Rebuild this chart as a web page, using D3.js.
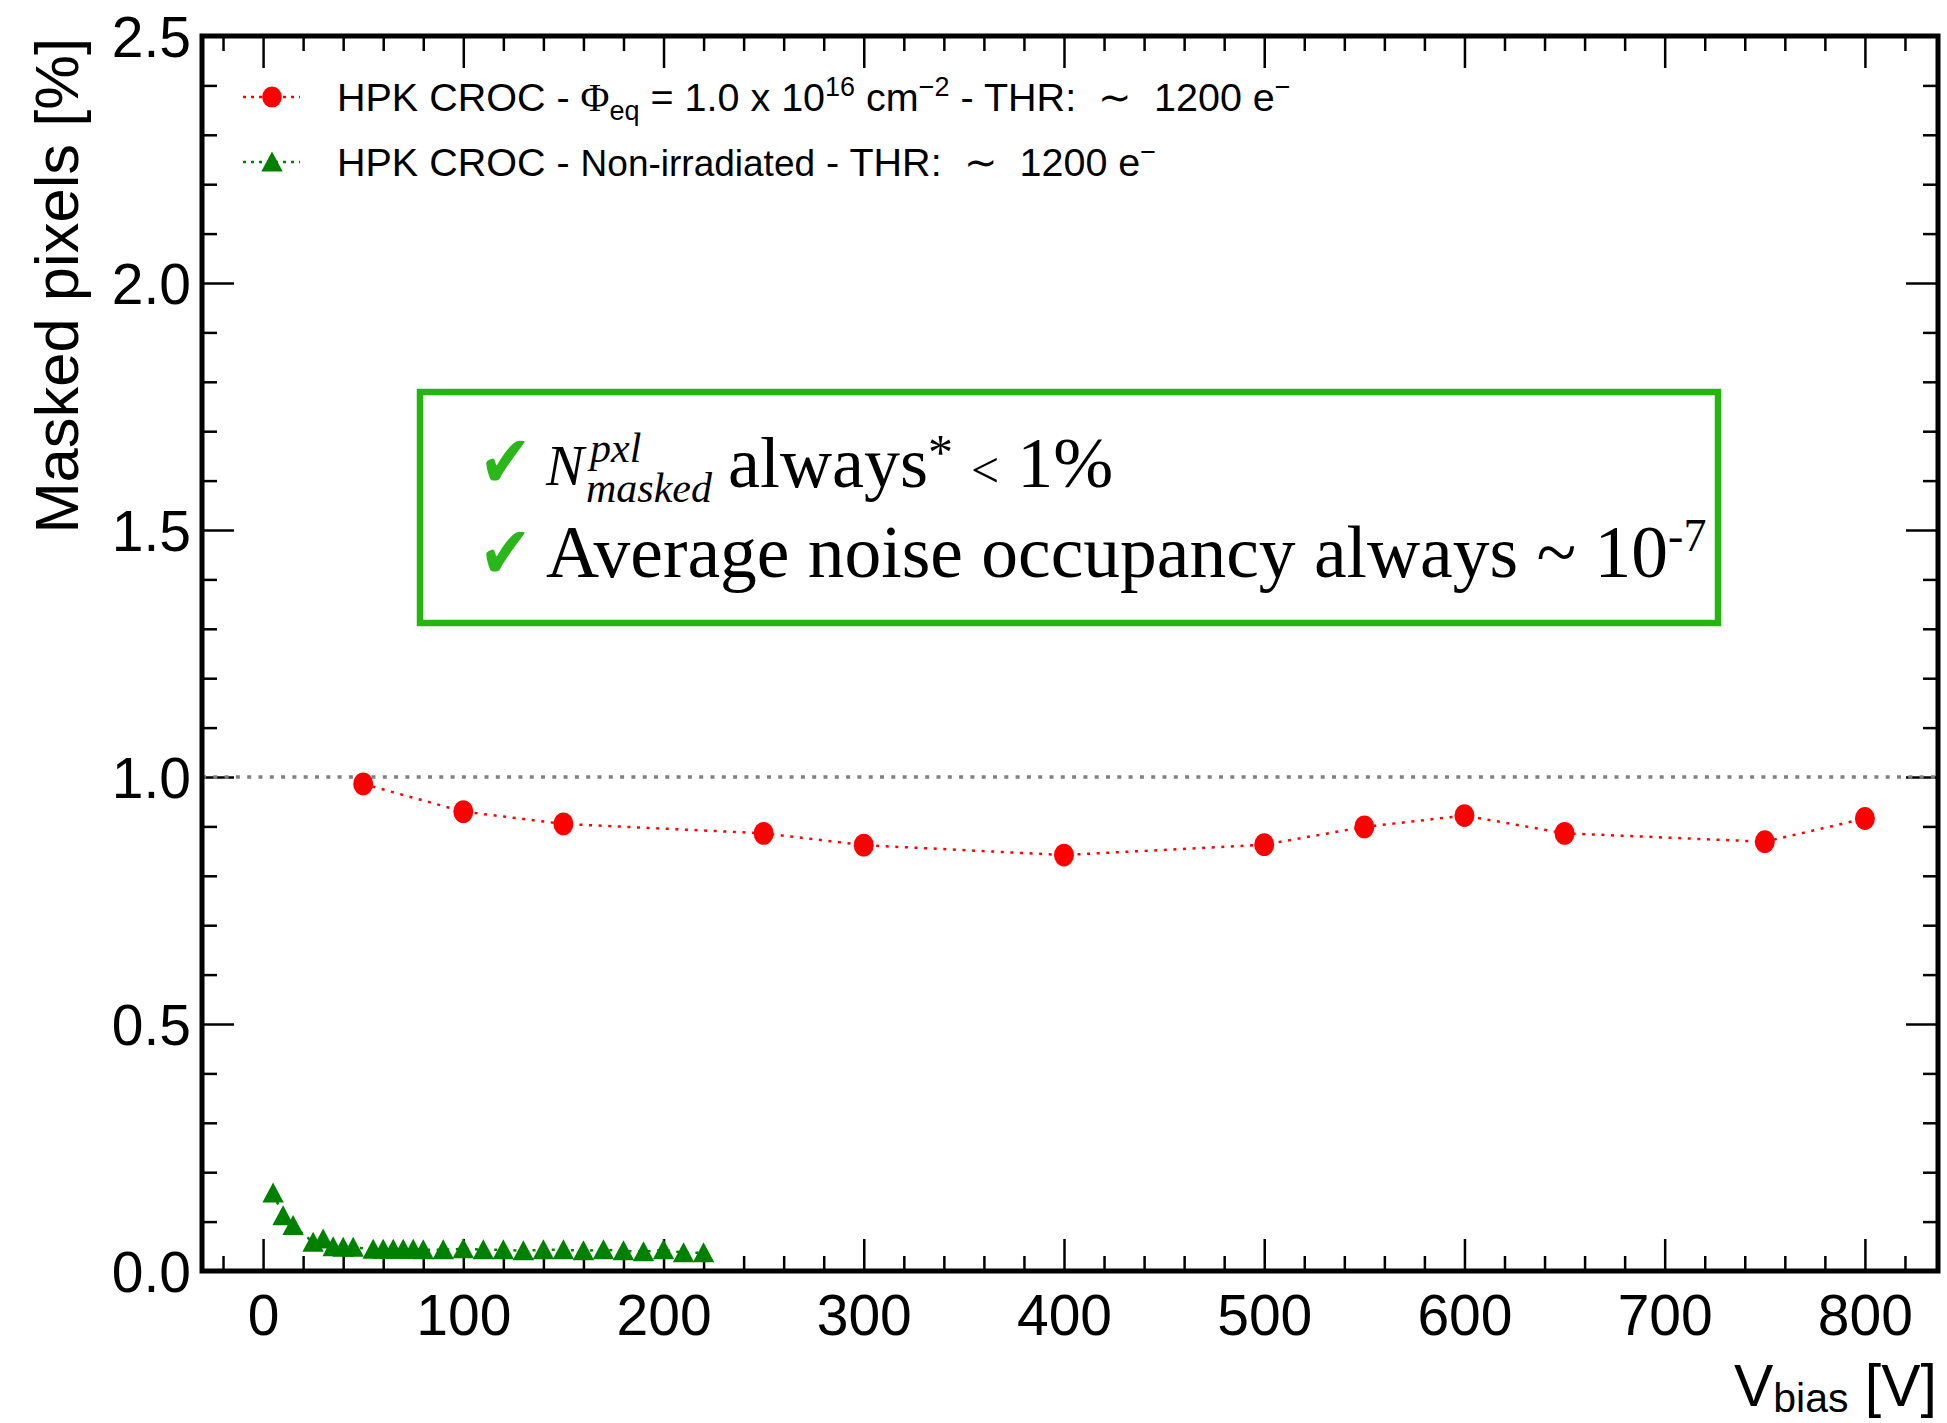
<!DOCTYPE html>
<html>
<head>
<meta charset="utf-8">
<script src="https://cdn.jsdelivr.net/npm/d3@7"></script>
<style>
  html, body { margin: 0; padding: 0; background: #fff; }
  svg { display: block; }
  text { white-space: pre; }
</style>
</head>
<body>
<svg id="chart" width="1947" height="1423"></svg>
<script>
// Irradiated HPK CROC module: masked pixel fraction vs bias voltage
const irrVbias   = [50, 100, 150, 250, 300, 400, 500, 550, 600, 650, 750, 800];
const irrMasked  = [0.986, 0.930, 0.905, 0.886, 0.862, 0.842, 0.863, 0.899, 0.922, 0.886, 0.869, 0.916];

// Non-irradiated HPK CROC module
const nonIrrVbias  = [5, 10, 15, 25, 30, 35, 40, 45, 55, 60, 65, 70, 75, 80, 90, 100, 110,
                      120, 130, 140, 150, 160, 170, 180, 190, 200, 210, 220];
const nonIrrMasked = [0.158, 0.112, 0.092, 0.058, 0.065, 0.049, 0.048, 0.048, 0.044, 0.044, 0.044,
                      0.044, 0.044, 0.043, 0.043, 0.045, 0.043, 0.043, 0.041, 0.043, 0.043, 0.041,
                      0.043, 0.041, 0.039, 0.043, 0.037, 0.037];

const xMajorTicks = [0, 100, 200, 300, 400, 500, 600, 700, 800];
const yMajorTicks = [0.0, 0.5, 1.0, 1.5, 2.0, 2.5];
const maskLimit = 1.0;

const svg = d3.select("#chart");
const L = 202, R = 1938, T = 36, B = 1271;
const SANS = "'Liberation Sans', Arial, Helvetica, sans-serif";
const SERIF = "'Liberation Serif', 'Times New Roman', serif";

const x = d3.scaleLinear().domain([-30.5, 836.5]).range([L, R]);
const y = d3.scaleLinear().domain([0, 2.5]).range([B, T]);

const MAJ = 32, MIN = 15;
const xMinor = d3.range(-20, 837, 20).filter(v => v % 100 !== 0);
const yMinor = d3.range(0.1, 2.5, 0.1).map(v => +v.toFixed(1)).filter(v => Math.round(v * 10) % 5 !== 0);

function styleAxis(g, withLabels) {
  g.select(".domain").remove();
  g.selectAll(".tick line").attr("stroke", "#000").attr("stroke-width", 2.5);
  if (withLabels) {
    g.selectAll(".tick text").attr("fill", "#000").attr("font-family", SANS).attr("font-size", 57);
  } else {
    g.selectAll(".tick text").remove();
  }
}

// bottom axis (ticks point inward)
svg.append("g").attr("transform", `translate(0,${B})`)
  .call(d3.axisBottom(x).tickValues(xMajorTicks).tickSizeInner(-MAJ).tickSizeOuter(0).tickPadding(0).tickFormat(d3.format("d")))
  .call(g => styleAxis(g, true))
  .call(g => g.selectAll(".tick text").attr("y", 64).attr("dy", 0));
svg.append("g").attr("transform", `translate(0,${B})`)
  .call(d3.axisBottom(x).tickValues(xMinor).tickSizeInner(-MIN).tickSizeOuter(0))
  .call(g => styleAxis(g, false));
// top axis
svg.append("g").attr("transform", `translate(0,${T})`)
  .call(d3.axisTop(x).tickValues(xMajorTicks).tickSizeInner(-MAJ).tickSizeOuter(0))
  .call(g => styleAxis(g, false));
svg.append("g").attr("transform", `translate(0,${T})`)
  .call(d3.axisTop(x).tickValues(xMinor).tickSizeInner(-MIN).tickSizeOuter(0))
  .call(g => styleAxis(g, false));
// left axis
svg.append("g").attr("transform", `translate(${L},0)`)
  .call(d3.axisLeft(y).tickValues(yMajorTicks).tickSizeInner(-MAJ).tickSizeOuter(0).tickPadding(0).tickFormat(d3.format(".1f")))
  .call(g => styleAxis(g, true))
  .call(g => g.selectAll(".tick text").attr("x", -11).attr("dy", "0.36em"));
svg.append("g").attr("transform", `translate(${L},0)`)
  .call(d3.axisLeft(y).tickValues(yMinor).tickSizeInner(-MIN).tickSizeOuter(0))
  .call(g => styleAxis(g, false));
// right axis
svg.append("g").attr("transform", `translate(${R},0)`)
  .call(d3.axisRight(y).tickValues(yMajorTicks).tickSizeInner(-MAJ).tickSizeOuter(0))
  .call(g => styleAxis(g, false));
svg.append("g").attr("transform", `translate(${R},0)`)
  .call(d3.axisRight(y).tickValues(yMinor).tickSizeInner(-MIN).tickSizeOuter(0))
  .call(g => styleAxis(g, false));

// 1% reference line
svg.append("line")
  .attr("x1", L).attr("x2", R).attr("y1", y(maskLimit)).attr("y2", y(maskLimit))
  .attr("stroke", "#808080").attr("stroke-width", 3.5).attr("stroke-dasharray", "4 7.3");

// series
const line = d3.line().x(d => x(d[0])).y(d => y(d[1]));
const irr = irrVbias.map((v, i) => [v, irrMasked[i]]);
const non = nonIrrVbias.map((v, i) => [v, nonIrrMasked[i]]);
const RED = "#ff0000", GREEN = "#008000";

svg.append("path").datum(irr).attr("d", line).attr("fill", "none")
  .attr("stroke", RED).attr("stroke-width", 2.5).attr("stroke-dasharray", "3 6.6");
svg.append("path").datum(non).attr("d", line).attr("fill", "none")
  .attr("stroke", GREEN).attr("stroke-width", 2.5).attr("stroke-dasharray", "3 6.6");

const triPath = "M0,-10.5 L10.7,9.5 L-10.7,9.5 Z";
svg.append("g").selectAll("path").data(non).join("path")
  .attr("transform", d => `translate(${x(d[0])},${y(d[1])})`)
  .attr("d", triPath).attr("fill", GREEN);
svg.append("g").selectAll("ellipse").data(irr).join("ellipse")
  .attr("cx", d => x(d[0])).attr("cy", d => y(d[1]))
  .attr("rx", 10).attr("ry", 11.4).attr("fill", RED);

// frame
svg.append("rect").attr("x", L).attr("y", T).attr("width", R - L).attr("height", B - T)
  .attr("fill", "none").attr("stroke", "#000").attr("stroke-width", 5);

// axis titles
svg.append("text")
  .attr("transform", `translate(78,${T + 2}) rotate(-90)`)
  .attr("text-anchor", "end").attr("font-family", SANS).attr("font-size", 61.5).attr("fill", "#000")
  .text("Masked pixels [%]");

const xt = svg.append("text").attr("x", R - 1).attr("y", 1406)
  .attr("text-anchor", "end").attr("font-family", SANS).attr("font-size", 59).attr("fill", "#000");
xt.append("tspan").text("V");
xt.append("tspan").attr("font-size", 41).attr("dy", 6).text("bias");
xt.append("tspan").attr("dy", -6).text(" [V]");

// legend
const legend = svg.append("g");
function legendKey(cy, color, marker) {
  legend.append("line").attr("x1", 243).attr("x2", 300).attr("y1", cy).attr("y2", cy)
    .attr("stroke", color).attr("stroke-width", 2.5).attr("stroke-dasharray", "3 5");
  if (marker === "circle") {
    legend.append("ellipse").attr("cx", 272).attr("cy", cy).attr("rx", 9.8).attr("ry", 10.5).attr("fill", color);
  } else {
    legend.append("path").attr("transform", `translate(272,${cy})`).attr("d", triPath).attr("fill", color);
  }
}
legendKey(97, RED, "circle");
legendKey(162, GREEN, "triangle");

const LF = 39.5, LS = 27;
const l1 = legend.append("text").attr("x", 337).attr("y", 111)
  .attr("font-family", SANS).attr("font-size", LF).attr("fill", "#000");
l1.append("tspan").text("HPK CROC - ");
l1.append("tspan").attr("font-family", SERIF).text("Φ");
l1.append("tspan").attr("font-size", LS).attr("dy", 9).text("eq");
l1.append("tspan").attr("dy", -9).text(" = 1.0 x 10");
l1.append("tspan").attr("font-size", LS).attr("dy", -15).text("16");
l1.append("tspan").attr("dy", 15).text(" cm");
l1.append("tspan").attr("font-size", LS).attr("dy", -15).text("−2");
l1.append("tspan").attr("dy", 15).text(" - THR:  ∼  1200 e");
l1.append("tspan").attr("font-size", LS).attr("dy", -15).text("−");

const l2 = legend.append("text").attr("x", 337).attr("y", 176)
  .attr("font-family", SANS).attr("font-size", LF).attr("fill", "#000");
l2.append("tspan").text("HPK CROC - ");
l2.append("tspan").attr("font-size", 37).text("Non-irradiated");
l2.append("tspan").text(" - THR:  ∼  1200 e");
l2.append("tspan").attr("font-size", LS).attr("dy", -15).text("−");

// summary box
const BOXG = "#25b410";
const box = svg.append("g");
box.append("rect").attr("x", 420).attr("y", 392).attr("width", 1298).attr("height", 231)
  .attr("fill", "#fff").attr("stroke", BOXG).attr("stroke-width", 6.5);

function check(by) {
  box.append("text").attr("transform", `translate(479,${by}) scale(1.05,1.22)`)
    .attr("font-family", "'DejaVu Sans', sans-serif").attr("font-size", 60).attr("fill", "#2bb71a")
    .text("✔");
}
check(487);
check(578);

const n1 = box.append("text").attr("x", 546).attr("y", 485).attr("font-family", SERIF)
  .attr("font-style", "italic").attr("font-size", 57).attr("fill", "#000");
n1.append("tspan").text("N");
n1.append("tspan").attr("font-size", 42).attr("x", 590).attr("dy", -23).text("pxl");
n1.append("tspan").attr("font-size", 42).attr("x", 586).attr("dy", 40).text("masked");

const t1 = box.append("text").attr("x", 728).attr("y", 487)
  .attr("font-family", SERIF).attr("font-size", 72).attr("fill", "#000");
t1.append("tspan").text("always");
t1.append("tspan").attr("font-size", 50).attr("dy", -18).text("*");
t1.append("tspan").attr("font-size", 50).attr("dy", 18).attr("dx", 18).text("<");
t1.append("tspan").attr("dx", 18).text("1%");

const t2 = box.append("text").attr("x", 546).attr("y", 577)
  .attr("font-family", SERIF).attr("font-size", 73.5).attr("fill", "#000");
t2.append("tspan").text("Average noise occupancy always ~ 10");
t2.append("tspan").attr("font-size", 46).attr("dy", -26).text("-7");
</script>
</body>
</html>
